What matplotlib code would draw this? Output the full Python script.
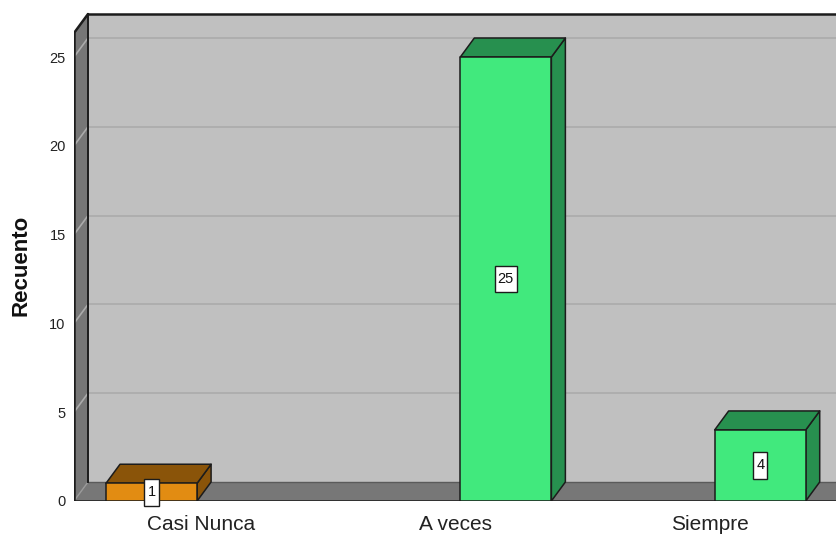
import matplotlib
matplotlib.use("Agg")
import matplotlib.pyplot as plt
from matplotlib.patches import Polygon, Rectangle

plt.rcParams["font.family"] = ["Liberation Sans", "DejaVu Sans"]

# ---- data -------------------------------------------------------------
categories = ["Casi Nunca", "A veces", "Siempre"]
series_orange = [1, 0, 0]
series_green = [0, 25, 4]
y_ticks = [0, 5, 10, 15, 20, 25]
y_label = "Recuento"

# ---- styling / layout -------------------------------------------------
W_PX, H_PX, DPI = 837, 535, 100
BAR_W = 0.358            # bar width in category units
OFFSETS = [-0.195, 0.198]  # cluster offsets for the two series
DX = 0.055               # depth offset (x, category units)
DY = 1.07                # depth offset (y, count units)
TOP = 26.35              # front top of the wall frame
YMAX = 28.21

FACE = {"orange": ("#E28C12", "#8A5409"), "green": ("#41E97D", "#27904F")}
EDGE = "#1c1c1c"
WALL_BACK = "#C0C0C0"
WALL_SIDE = "#767676"
FLOOR = "#777777"
GRID = "#ABABAB"

fig = plt.figure(figsize=(W_PX / DPI, H_PX / DPI), dpi=DPI)
fig.patch.set_facecolor("white")
ax = fig.add_axes([74 / W_PX, 34 / H_PX, 763 / W_PX, 501 / H_PX])
ax.set_xlim(-0.5, 2.5)
ax.set_ylim(0, YMAX)
ax.set_facecolor("white")
for s in ax.spines.values():
    s.set_visible(False)

x0 = -0.5
x1 = 3.0  # walls run past the right edge of the plot

# back wall
ax.add_patch(Rectangle((x0 + DX, DY), x1 - x0, TOP, facecolor=WALL_BACK,
                       edgecolor="none", zorder=1))
# grid lines on back wall and diagonals on the side wall
for v in y_ticks[1:]:
    ax.plot([x0 + DX, x1], [v + DY, v + DY], color=GRID, lw=1.2, zorder=2)
    ax.plot([x0, x0 + DX], [v, v + DY], color=GRID, lw=1.2, zorder=4)
# side wall
ax.add_patch(Polygon([(x0, 0), (x0 + DX, DY), (x0 + DX, TOP + DY), (x0, TOP)],
                     closed=True, facecolor=WALL_SIDE, edgecolor="none", zorder=3))
# floor
ax.add_patch(Polygon([(x0, 0), (x1, 0), (x1 + DX, DY), (x0 + DX, DY)],
                     closed=True, facecolor=FLOOR, edgecolor="none", zorder=3))
ax.plot([x0 + DX, x1], [DY, DY], color="#5a5a5a", lw=1.0, zorder=3.5)
ax.plot([x0, x0 + DX], [0, DY], color="#9a9a9a", lw=1.0, zorder=4)
# frame edges
frame_kw = dict(color=EDGE, lw=1.8, zorder=5, solid_capstyle="round")
ax.plot([x0, x0], [0, TOP], **frame_kw)
ax.plot([x0, x0 + DX], [TOP, TOP + DY], **frame_kw)
ax.plot([x0 + DX, x1], [TOP + DY, TOP + DY], **frame_kw)
ax.plot([x0 + DX, x0 + DX], [DY, TOP + DY], color=EDGE, lw=1.4, zorder=5)
ax.plot([x0, x1], [0, 0], **frame_kw)


def bar3d(xc, h, front, dark):
    l, r = xc - BAR_W / 2, xc + BAR_W / 2
    kw = dict(closed=True, edgecolor=EDGE, lw=1.1, zorder=6, joinstyle="round")
    ax.add_patch(Polygon([(r, 0), (r + DX, DY), (r + DX, h + DY), (r, h)],
                         facecolor=dark, **kw))
    ax.add_patch(Polygon([(l, h), (r, h), (r + DX, h + DY), (l + DX, h + DY)],
                         facecolor=dark, **kw))
    ax.add_patch(Polygon([(l, 0), (r, 0), (r, h), (l, h)], facecolor=front, **kw))
    ax.text(xc, h / 2, f"{h}", ha="center", va="center", fontsize=10.5,
            color="#111111", zorder=7,
            bbox=dict(boxstyle="square,pad=0.22", facecolor="white",
                      edgecolor=EDGE, lw=1.0, mutation_aspect=2.0))


for key, values, off in (("orange", series_orange, OFFSETS[0]),
                         ("green", series_green, OFFSETS[1])):
    for i, v in enumerate(values):
        if v:
            bar3d(i + off, v, *FACE[key])

# axes ticks and labels
ax.set_xticks(range(len(categories)))
ax.set_xticklabels(categories, fontsize=15, color="#222222")
ax.set_yticks(y_ticks)
ax.set_yticklabels([str(t) for t in y_ticks], fontsize=10.5, color="#222222")
ax.tick_params(axis="both", length=0)
ax.tick_params(axis="y", pad=6)
ax.tick_params(axis="x", pad=10)
ax.set_ylabel(y_label, fontsize=16, fontweight="bold", color="#111111")
ax.yaxis.set_label_coords(-0.056, 0.471)

fig.savefig("out.png", dpi=DPI)
